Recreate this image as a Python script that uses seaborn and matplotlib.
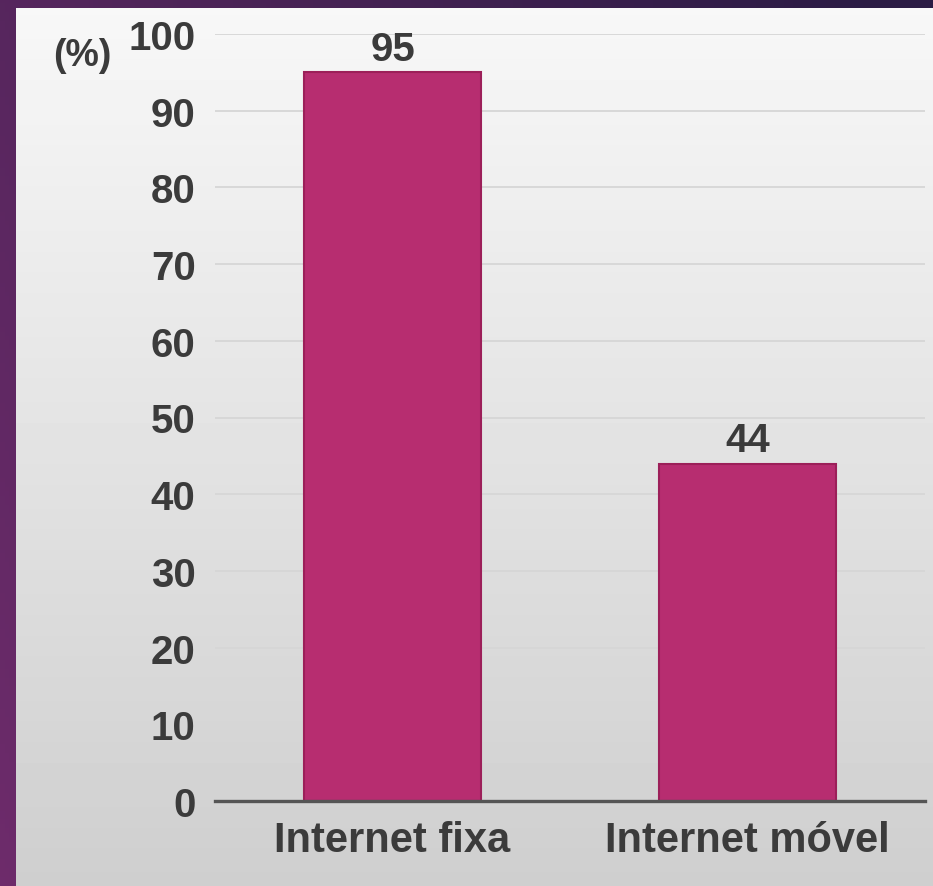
# Internet access chart - fixa vs movel
# Imports
import numpy as np
import pandas as pd
import matplotlib as mpl
mpl.use('Agg')
import matplotlib.pyplot as plt
import seaborn as sns

# Data
categories = ['Internet fixa', 'Internet móvel']
values = [95, 44]
y_ticks = [0, 10, 20, 30, 40, 50, 60, 70, 80, 90, 100]
unit_label = '(%)'

df = pd.DataFrame({'Categoria': categories, 'Percentual': values})

# Style
sns.set_style('white')
plt.rcParams['font.family'] = ['Liberation Sans', 'DejaVu Sans']
plt.rcParams['font.weight'] = 'bold'

text_col = '#3b3b3b'
bar_col = '#b72d70'

fig = plt.figure(figsize=(9.33, 8.87), dpi=100)

# Purple frame background (gradient)
bg = fig.add_axes([0, 0, 1, 1])
gx = np.linspace(0, 1, 200)
gy = np.linspace(0, 1, 200)
GX, GY = np.meshgrid(gx, gy)
t = np.clip(0.7 * GX + 0.35 * (1 - GY), 0, 1)
c0 = np.array([0.43, 0.17, 0.42])
c1 = np.array([0.17, 0.11, 0.27])
img = c0[None, None, :] * (1 - t[..., None]) + c1[None, None, :] * t[..., None]
bg.imshow(img, extent=[0, 1, 0, 1], aspect='auto', origin='upper')
bg.set_axis_off()

# Light gray panel (vertical gradient)
panel = fig.add_axes([16 / 933, 0, 1 - 16 / 933, (887 - 9) / 887])
pv = np.linspace(0.97, 0.81, 256)
panel.imshow(np.repeat(pv[:, None], 2, axis=1), cmap='gray', vmin=0, vmax=1,
             extent=[0, 1, 0, 1], aspect='auto', origin='upper')
panel.set_axis_off()

# Main chart axes
ax = fig.add_axes([215 / 933, 85 / 887, 710 / 933, 767 / 887])
ax.patch.set_alpha(0)
sns.barplot(data=df, x='Categoria', y='Percentual', color=bar_col,
            saturation=1, width=0.5, edgecolor='#9c1f59', linewidth=1.5, ax=ax)

ax.set_ylim(0, 100)
ax.set_xlim(-0.5, 1.5)
ax.set_yticks(y_ticks)
ax.set_yticklabels([str(v) for v in y_ticks], fontsize=29, color=text_col,
                   fontweight='bold')
ax.set_xticks(range(len(categories)))
ax.set_xticklabels(categories, fontsize=30, color=text_col, fontweight='bold')
ax.tick_params(axis='y', length=0, pad=14)
ax.tick_params(axis='x', length=0, pad=14)
ax.set_xlabel('')
ax.set_ylabel('')

# Gridlines
ax.yaxis.grid(True, color='#d6d6d6', linewidth=1.3)
ax.set_axisbelow(True)
for s in ['top', 'right', 'left']:
    ax.spines[s].set_visible(False)
ax.spines['bottom'].set_color('#555555')
ax.spines['bottom'].set_linewidth(2.4)

# Value labels
for i, v in enumerate(values):
    ax.annotate(str(v), (i, v), xytext=(0, 3), textcoords='offset points',
                ha='center', va='bottom', fontsize=29, color=text_col,
                fontweight='bold')

# Unit label
fig.text(82 / 933, 1 - 56 / 887, unit_label, ha='center', va='center',
         fontsize=27, color=text_col, fontweight='bold')

fig.savefig('out.png', dpi=100)
